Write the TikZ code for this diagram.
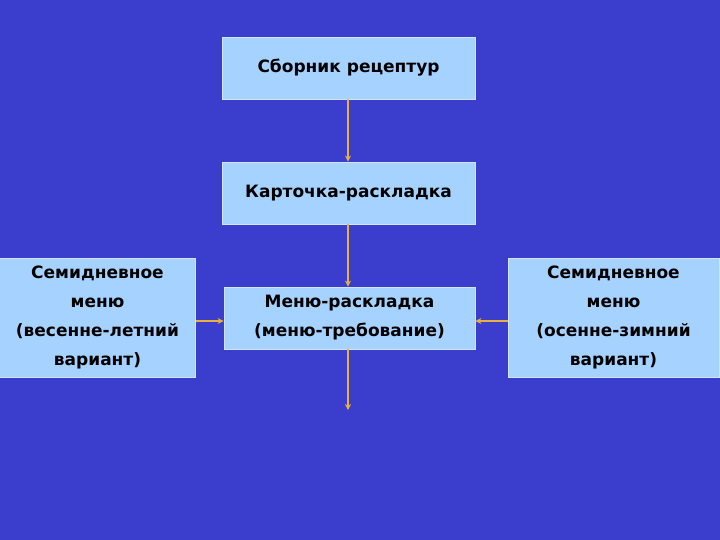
\documentclass[tikz,border=0pt]{standalone}
\usepackage{fontspec}
\setmainfont{DejaVu Sans}
\usetikzlibrary{arrows.meta}
\definecolor{bg}{HTML}{3B3ECC}
\definecolor{boxc}{HTML}{A6D2FF}
\definecolor{edge}{HTML}{D0E6FF}
\definecolor{arr}{HTML}{E8B040}
\begin{document}
\begin{tikzpicture}[x=1pt,y=-1pt,
  box/.style={draw=edge,line width=0.8pt,fill=boxc,inner sep=0pt,align=center,font=\bfseries\fontsize{17}{29}\selectfont},
  conn/.style={draw=arr,line width=1.2pt,-{Stealth[length=6pt,width=6pt]}}]
\fill[bg] (0,0) rectangle (720,540);
\useasboundingbox (0,0) rectangle (720,540);
\node[box,minimum width=253pt,minimum height=62pt] (a) at (348.5,68) {Сборник рецептур};
\node[box,minimum width=253pt,minimum height=62pt] (b) at (348.5,193) {Карточка-раскладка};
\node[box,minimum width=251pt,minimum height=62pt] (c) at (349.5,318) {Меню-раскладка\\(меню-требование)};
\node[box,minimum width=196pt,minimum height=119pt] (l) at (97.5,317.5) {Семидневное\\меню\\(весенне-летний\\вариант)};
\node[box,minimum width=211pt,minimum height=119pt] (r) at (613.5,317.5) {Семидневное\\меню\\(осенне-зимний\\вариант)};
\coordinate (e) at (348,410);
\draw[conn] (a.south -| 348,0) -- (b.north -| 348,0);
\draw[conn] (b.south -| 348,0) -- (c.north -| 348,0);
\draw[conn] (c.south -| 348,0) -- (e);
\draw[conn] (l.east |- 0,321) -- (c.west |- 0,321);
\draw[conn] (r.west |- 0,321) -- (c.east |- 0,321);
\end{tikzpicture}
\end{document}
